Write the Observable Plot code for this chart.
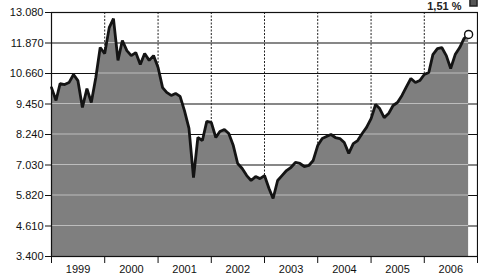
<!DOCTYPE html>
<html><head><meta charset="utf-8">
<script src="https://cdn.jsdelivr.net/npm/d3@7"></script>
<script src="https://cdn.jsdelivr.net/npm/@observablehq/plot@0.6"></script>
<style>
body{margin:0;background:#fff}
svg{font-family:"Liberation Sans",Arial,sans-serif}
</style>
</head><body><div id="chart"></div>
<script>
// Monthly index level, Jan 1999 .. Nov 2006
const firstMonth = "1999-01-01";
const values = [
  10100, 9590, 10260, 10220, 10300, 10620, 10380, 9310, 10060, 9510, 10500, 11690,
  11450, 12480, 12840, 11180, 11970, 11570, 11370, 11490, 11020, 11450, 11180, 11370,
  10900, 10100, 9910, 9790, 9870, 9750, 9190, 8480, 6530, 8120, 8000, 8760,
  8720, 8120, 8360, 8440, 8280, 7800, 7090, 6890, 6610, 6415, 6570, 6490,
  6610, 6100, 5700, 6415, 6610, 6810, 6930, 7130, 7090, 6970, 7010, 7210,
  7800, 8080, 8160, 8240, 8120, 8080, 7920, 7490, 7880, 8000, 8280, 8520,
  8870, 9430, 9270, 8910, 9070, 9390, 9510, 9790, 10140, 10460, 10300, 10380,
  10620, 10700, 11410, 11650, 11690, 11370, 10860, 11410, 11690, 12050, 12210
];
const yTicks = [3400, 4610, 5820, 7030, 8240, 9450, 10660, 11870, 13080];
const years = [1999, 2000, 2001, 2002, 2003, 2004, 2005, 2006];
const note = "1,51 %";

const start = new Date(firstMonth);
const data = values.map((v, i) => ({date: d3.utcMonth.offset(start, i), value: v}));
const last = [data[data.length - 1]];
const yearStarts = years.concat([years[years.length - 1] + 1]).map(y => new Date(Date.UTC(y, 0, 1)));
const midYears = years.map(y => new Date(Date.UTC(y, 6, 2)));
const loc = d3.formatLocale({decimal: ",", thousands: ".", grouping: [3], currency: ["", ""]});
const fmt = loc.format(",d");

const plot = Plot.plot({
  width: 478, height: 278,
  marginLeft: 51, marginRight: 1, marginTop: 12, marginBottom: 22,
  x: {type: "utc", domain: [yearStarts[0], yearStarts[yearStarts.length - 1]]},
  y: {domain: [yTicks[0], yTicks[yTicks.length - 1]]},
  marks: [
    Plot.ruleY(yTicks, {stroke: "#111", strokeWidth: 1.2}),
    Plot.ruleX(yearStarts.slice(1, -1), {stroke: "#222", strokeWidth: 1, strokeDasharray: "2,1.5"}),
    Plot.areaY(data, {x: "date", y1: yTicks[0], y2: "value", fill: "#7f7f7f"}),
    Plot.ruleY(yTicks.slice(1, -1), {stroke: "#bdbdbd", strokeWidth: 1.2, ariaDescription: "inner-grid"}),
    Plot.lineY(data, {x: "date", y: "value", stroke: "#141414", strokeWidth: 2.8, strokeLinejoin: "miter"}),
    Plot.dot(last, {x: "date", y: "value", r: 4, fill: "#fff", stroke: "#111", strokeWidth: 1.4}),
    Plot.frame({stroke: "#111", strokeWidth: 1.2}),
    Plot.axisY({ticks: yTicks, tickFormat: fmt, tickSize: 6, tickPadding: 2, fontSize: 11, color: "#111", label: null}),
    Plot.axisX({ticks: yearStarts, tickFormat: () => "", tickSize: 7, color: "#111", label: null}),
    Plot.axisX({ticks: midYears, tickFormat: d => String(d.getUTCFullYear()), tickSize: 0, tickPadding: 9, fontSize: 11, color: "#111", label: null}),
    Plot.text([note], {frameAnchor: "top-right", dx: -16, dy: -10, textAnchor: "end", fontSize: 11, fontWeight: "bold", fill: "#222"}),
    Plot.dot([note], {frameAnchor: "top-right", dx: -4, dy: -10, symbol: "square", r: 4, fill: "#555", stroke: "#222"})
  ]
});
document.getElementById("chart").appendChild(plot);

// show the grid lines lighter only where they cross the filled area
const areaPath = plot.querySelector('g[aria-label="area"] path');
const inner = plot.querySelector('g[aria-description="inner-grid"]');
if (areaPath && inner) {
  const ns = "http://www.w3.org/2000/svg";
  const defs = document.createElementNS(ns, "defs");
  const cp = document.createElementNS(ns, "clipPath");
  cp.setAttribute("id", "areaclip");
  const p = document.createElementNS(ns, "path");
  p.setAttribute("d", areaPath.getAttribute("d"));
  cp.appendChild(p);
  defs.appendChild(cp);
  plot.insertBefore(defs, plot.firstChild);
  inner.removeAttribute("transform");
  inner.setAttribute("clip-path", "url(#areaclip)");
}
</script>
</body></html>
